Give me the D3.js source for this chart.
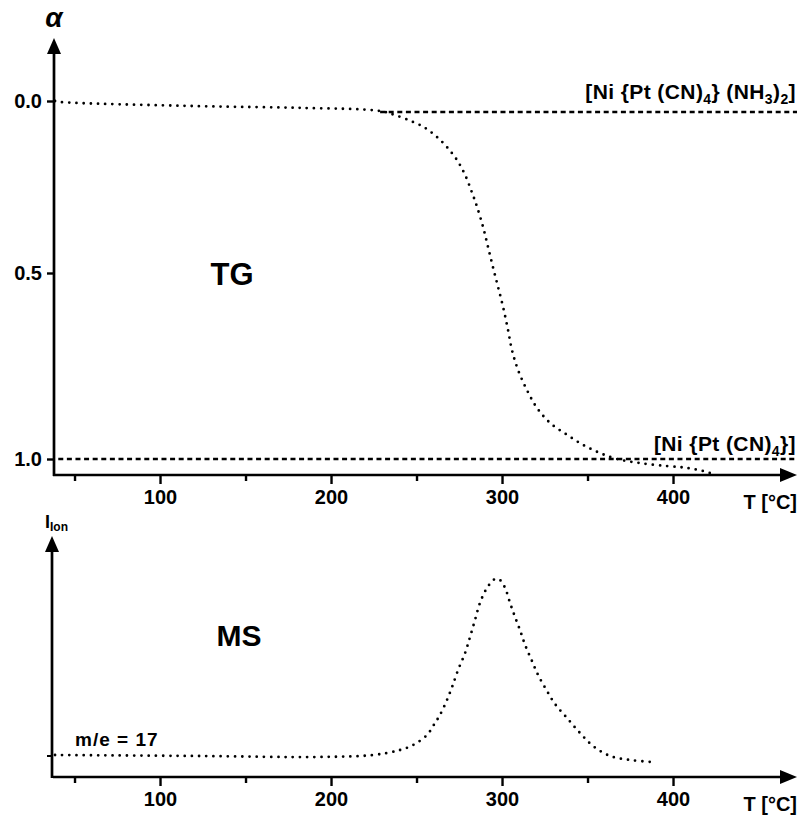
<!DOCTYPE html>
<html>
<head>
<meta charset="utf-8">
<script src="https://cdn.jsdelivr.net/npm/d3@7"></script>
<style>
  body { margin: 0; background: #fff; }
  svg text { font-family: "Liberation Sans", Arial, sans-serif; font-weight: bold; fill: #000; }
</style>
</head>
<body>
<div id="block"></div>
<script>
// data
var tempTicks = [50, 100, 150, 200, 250, 300, 350, 400];
var tempLabels = [100, 200, 300, 400];
var alphaTicks = [0, 0.5, 1];

// TG curve: temperature (°C) and degree of conversion alpha
var tgTemp  = [38.6, 42, 123, 182, 228.7, 237.4, 248, 255, 262, 267.8, 273.7, 278.4, 282.5, 285.4, 288.9, 291.8, 294.7, 297.7, 300.6, 303.5, 305.8, 309.4, 314.6, 320.5, 328.1, 338, 347.4, 357.3, 367.3, 380.7, 396.5, 408.2, 419.9, 424];
var tgAlpha = [0, 0.003, 0.015, 0.02, 0.029, 0.041, 0.061, 0.078, 0.105, 0.134, 0.172, 0.215, 0.267, 0.308, 0.366, 0.424, 0.483, 0.538, 0.591, 0.653, 0.707, 0.761, 0.815, 0.863, 0.903, 0.935, 0.962, 0.984, 1.0, 1.011, 1.019, 1.024, 1.035, 1.042];

// reference levels (dashed) for the two compounds
var refAlpha = [0.032, 1.0];
var refStart = [228.7, 40.5];

// MS curve m/e = 17: temperature and ion current (arb. units)
var msTemp = [38.6, 123.4, 191.8, 224.6, 240.4, 248, 256.1, 260.8, 263.7, 267.8, 270.8, 274.3, 278.4, 281.3, 284.2, 287.1, 291.2, 295.9, 298.8, 301.8, 304.7, 307.6, 310.5, 313.5, 317.5, 321.1, 326.3, 331, 338, 345.6, 353.2, 363.2, 374.9, 388.3];
var msIon  = [0.11, 0.105, 0.10, 0.11, 0.135, 0.16, 0.21, 0.27, 0.31, 0.385, 0.45, 0.535, 0.62, 0.70, 0.785, 0.87, 0.945, 0.99, 0.985, 0.945, 0.87, 0.80, 0.735, 0.66, 0.58, 0.51, 0.43, 0.365, 0.295, 0.22, 0.155, 0.105, 0.085, 0.075];

var W = 803, H = 815;
var svg = d3.select("#block").append("svg")
    .attr("width", W).attr("height", H);
svg.append("rect").attr("width", W).attr("height", H).attr("fill", "#fff");

// scales
var x = d3.scaleLinear().domain([38, 472.5]).range([54, 797]);
var yTG = d3.scaleLinear().domain([0, 0.5, 1]).range([101, 273, 459]);
var yMS = d3.scaleLinear().domain([0, 1]).range([777, 577]);

var tgAxisY = 475, msAxisY = 777;

function arrowRight(g, x0, x1, y) {
    g.append("line").attr("x1", x0).attr("x2", x1 - 12).attr("y1", y).attr("y2", y)
        .attr("stroke", "#000").attr("stroke-width", 2.7);
    g.append("path").attr("d", "M" + x1 + "," + y + "L" + (x1 - 17) + "," + (y - 7) + "L" + (x1 - 17) + "," + (y + 7) + "Z")
        .attr("fill", "#000");
}
function arrowUp(g, xx, y0, y1) {
    g.append("line").attr("x1", xx).attr("x2", xx).attr("y1", y0).attr("y2", y1 + 12)
        .attr("stroke", "#000").attr("stroke-width", 2.7);
    g.append("path").attr("d", "M" + xx + "," + y1 + "L" + (xx - 7) + "," + (y1 + 16) + "L" + (xx + 7) + "," + (y1 + 16) + "Z")
        .attr("fill", "#000");
}

function tempAxis(yPos) {
    var g = svg.append("g").attr("transform", "translate(0," + yPos + ")");
    var ax = d3.axisBottom(x)
        .tickValues(tempTicks)
        .tickSizeOuter(0)
        .tickPadding(9)
        .tickFormat(function(d) { return tempLabels.indexOf(d) >= 0 ? d : ""; });
    g.call(ax);
    g.select(".domain").remove();
    g.selectAll(".tick line")
        .attr("stroke", "#000").attr("stroke-width", 2.4)
        .attr("y2", function(d) { return tempLabels.indexOf(d) >= 0 ? 9 : 6; });
    // minor ticks carry no label
    g.selectAll(".tick text").filter(function(d) { return tempLabels.indexOf(d) < 0; }).remove();
    g.selectAll(".tick text")
        .attr("font-size", 20)
        .attr("font-family", "Liberation Sans, Arial, sans-serif")
        .attr("font-weight", "bold")
        .attr("fill", "#000");
    svg.append("text").attr("x", 797).attr("y", yPos + 34)
        .attr("text-anchor", "end").attr("font-size", 20)
        .text("T [°C]");
    arrowRight(svg, x.range()[0] - 1, 797, yPos);
}

// ---------- TG panel ----------
tempAxis(tgAxisY);
arrowUp(svg, 54, tgAxisY + 1, 38);

var yAx = svg.append("g").attr("transform", "translate(54,0)")
    .call(d3.axisLeft(yTG).tickValues(alphaTicks).tickSize(7).tickPadding(5)
        .tickFormat(d3.format(".1f")));
yAx.select(".domain").remove();
yAx.selectAll(".tick line").attr("stroke", "#000").attr("stroke-width", 2.4);
yAx.selectAll(".tick text")
    .attr("font-size", 20)
    .attr("font-family", "Liberation Sans, Arial, sans-serif")
    .attr("font-weight", "bold")
    .attr("fill", "#000");

svg.append("text").attr("x", 54).attr("y", 27).attr("text-anchor", "middle")
    .attr("font-size", 28).attr("font-style", "italic").text("α");

// dashed reference lines
refAlpha.forEach(function(a, i) {
    svg.append("line")
        .attr("x1", x(refStart[i])).attr("x2", 797)
        .attr("y1", yTG(a)).attr("y2", yTG(a))
        .attr("stroke", "#000").attr("stroke-width", 2.4)
        .attr("stroke-dasharray", "5,3.6");
});

// formula labels: plain strings, or {s: "..."} for a subscript
function formula(yPos, parts) {
    var t = svg.append("text").attr("x", 796).attr("y", yPos)
        .attr("text-anchor", "end").attr("font-size", 21).attr("letter-spacing", 0.4);
    var shift = 0;
    parts.forEach(function(p) {
        if (typeof p === "string") {
            t.append("tspan").attr("dy", -shift).text(p);
            shift = 0;
        } else {
            t.append("tspan").attr("dy", 5).attr("font-size", 14).text(p.s);
            shift = 5;
        }
    });
}
formula(99, ["[Ni {Pt (CN)", {s: "4"}, "} (NH", {s: "3"}, ")", {s: "2"}, "]"]);
formula(451, ["[Ni {Pt (CN)", {s: "4"}, "}]"]);

var tgLine = d3.line()
    .x(function(d, i) { return x(tgTemp[i]); })
    .y(function(d, i) { return yTG(tgAlpha[i]); })
    .curve(d3.curveCatmullRom);
svg.append("path").datum(tgTemp).attr("d", tgLine)
    .attr("fill", "none").attr("stroke", "#000").attr("stroke-width", 2.8)
    .attr("stroke-linecap", "round").attr("stroke-dasharray", "0,7.2");

svg.append("text").attr("x", 232).attr("y", 285).attr("text-anchor", "middle")
    .attr("font-size", 31).text("TG");

// ---------- MS panel ----------
tempAxis(msAxisY);
arrowUp(svg, 52, msAxisY + 1, 536);
svg.append("line").attr("x1", 47).attr("x2", 52).attr("y1", 756).attr("y2", 756)
    .attr("stroke", "#000").attr("stroke-width", 2);

var ionLbl = svg.append("text").attr("x", 45).attr("y", 528).attr("font-size", 18);
ionLbl.append("tspan").text("I");
ionLbl.append("tspan").attr("dy", 3).attr("font-size", 12).text("Ion");

var msLine = d3.line()
    .x(function(d, i) { return x(msTemp[i]); })
    .y(function(d, i) { return yMS(msIon[i]); })
    .curve(d3.curveCatmullRom);
svg.append("path").datum(msTemp).attr("d", msLine)
    .attr("fill", "none").attr("stroke", "#000").attr("stroke-width", 2.8)
    .attr("stroke-linecap", "round").attr("stroke-dasharray", "0,7.2");

svg.append("text").attr("x", 239).attr("y", 646).attr("text-anchor", "middle")
    .attr("font-size", 30).text("MS");
svg.append("text").attr("x", 75).attr("y", 746).attr("font-size", 19)
    .attr("letter-spacing", 1).text("m/e = 17");
</script>
</body>
</html>
